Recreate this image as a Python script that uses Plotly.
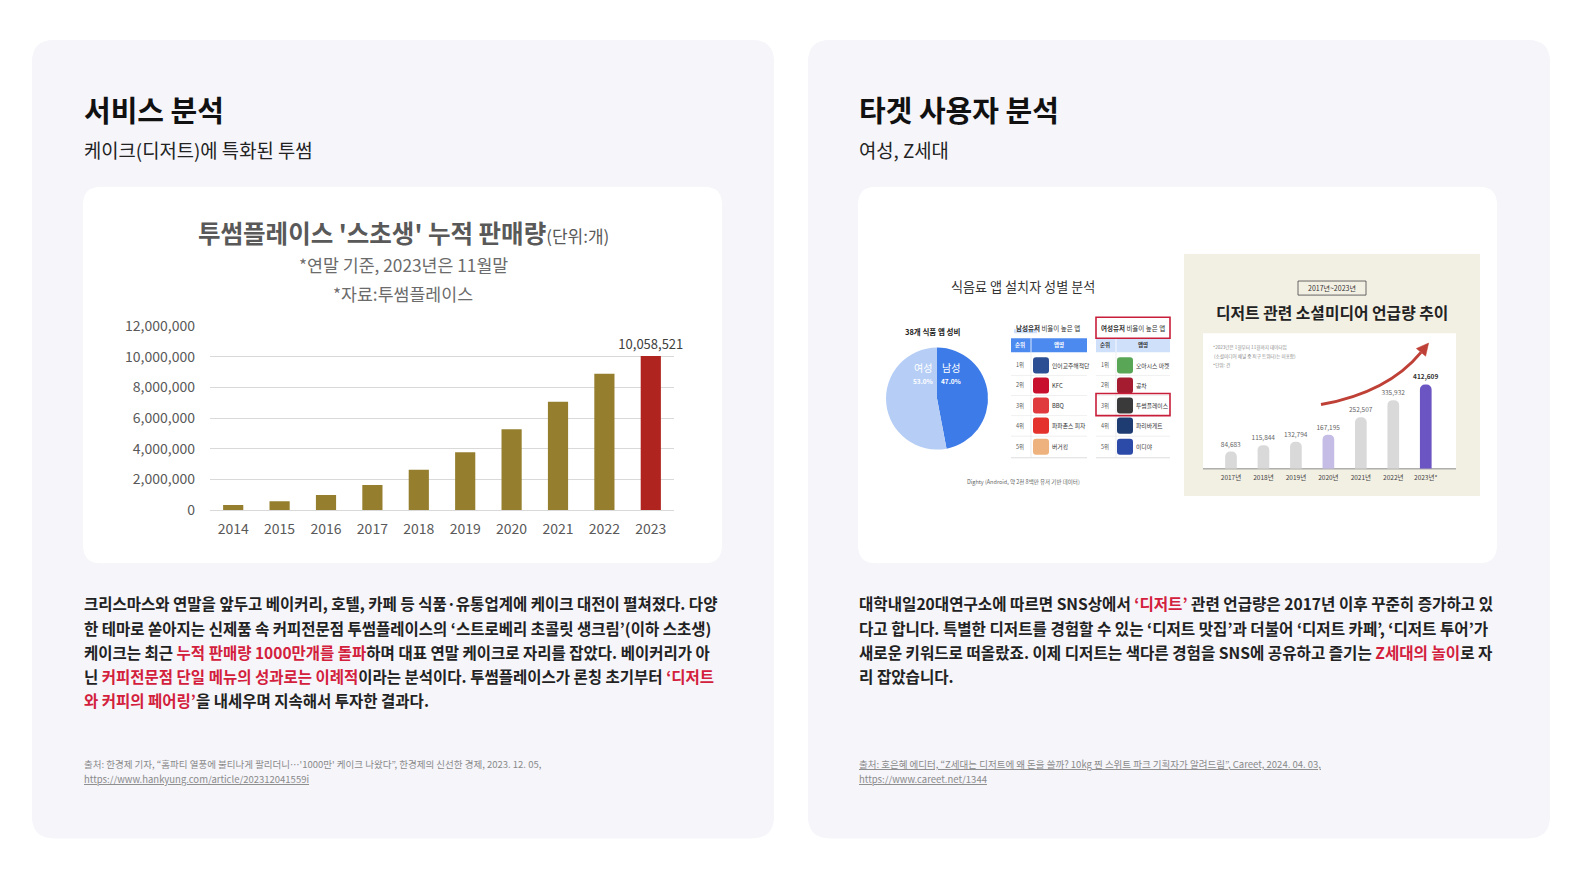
import plotly.graph_objects as go

W, H = 1582, 882
FONT = "Noto Sans CJK KR, Noto Sans, sans-serif"

# ---------------- data ----------------
years = ["2014", "2015", "2016", "2017", "2018", "2019", "2020", "2021", "2022", "2023"]
sales = [320000, 570000, 980000, 1640000, 2630000, 3770000, 5270000, 7070000, 8900000, 10058521]
y_ticks = [0, 2000000, 4000000, 6000000, 8000000, 10000000, 12000000]

mention_years = ["2017년", "2018년", "2019년", "2020년", "2021년", "2022년", "2023년*"]
mentions = [84683, 115844, 132794, 167195, 252507, 335932, 412609]

gender_labels = ["남성", "여성"]
gender_share = [47.0, 53.0]

ranks = ["1위", "2위", "3위", "4위", "5위"]
male_apps = ["인어교주해적단", "KFC", "BBQ", "파파존스 피자", "버거킹"]
female_apps = ["오아시스 마켓", "공차", "투썸플레이스", "파리바게트", "이디야"]
male_icon_colors = ["#2c4f93", "#c8102e", "#e03a3e", "#e4312b", "#eeb27e"]
female_icon_colors = ["#5aa657", "#a51c30", "#3a3a3a", "#1e3c72", "#2c4aa8"]

RED = "#d3203c"


def X(x):
    return x / W


def YD(c):
    # layout pixel row for a target row c
    p = c / 1.0095
    return (p - 13) / 0.964


def Y(c):
    return 1 - YD(c) / H


def rrect_path(x0, y0, x1, y1, r):
    return (f"M {X(x0+r)},{Y(y0)} L {X(x1-r)},{Y(y0)} Q {X(x1)},{Y(y0)} {X(x1)},{Y(y0+r)} "
            f"L {X(x1)},{Y(y1-r)} Q {X(x1)},{Y(y1)} {X(x1-r)},{Y(y1)} "
            f"L {X(x0+r)},{Y(y1)} Q {X(x0)},{Y(y1)} {X(x0)},{Y(y1-r)} "
            f"L {X(x0)},{Y(y0+r)} Q {X(x0)},{Y(y0)} {X(x0+r)},{Y(y0)} Z")


shapes = []
annotations = []


def rr(x0, y0, x1, y1, r, fill, line=None, lw=0, layer="below"):
    shapes.append(dict(type="path", xref="paper", yref="paper", path=rrect_path(x0, y0, x1, y1, r),
                       fillcolor=fill, line=dict(color=line or "rgba(0,0,0,0)", width=lw), layer=layer))


def rect(x0, y0, x1, y1, fill="rgba(0,0,0,0)", line=None, lw=0, layer="below"):
    shapes.append(dict(type="rect", xref="paper", yref="paper", x0=X(x0), x1=X(x1), y0=Y(y1), y1=Y(y0),
                       fillcolor=fill, line=dict(color=line or "rgba(0,0,0,0)", width=lw), layer=layer))


def hline(x0, x1, y, color, lw=1, layer="below"):
    shapes.append(dict(type="line", xref="paper", yref="paper", x0=X(x0), x1=X(x1), y0=Y(y), y1=Y(y),
                       line=dict(color=color, width=lw), layer=layer))


def vline(x, y0, y1, color, lw=1, layer="below"):
    shapes.append(dict(type="line", xref="paper", yref="paper", x0=X(x), x1=X(x), y0=Y(y0), y1=Y(y1),
                       line=dict(color=color, width=lw), layer=layer))


def ann(x, y, text, size, color="#222", anchor="left", family=FONT):
    annotations.append(dict(xref="paper", yref="paper", x=X(x), y=Y(y), text=text, showarrow=False,
                            xanchor=anchor, yanchor="middle", font=dict(size=size, color=color, family=family),
                            borderpad=0))


def seg(t, color="#222"):
    return f"<span style='color:{color}'>{t}</span>"


# ---------------- panels ----------------
rr(32, 42, 774, 837, 22, "#f5f5fa")
rr(808, 42, 1550, 837, 22, "#f5f5fa")
rr(83, 188, 722, 563, 18, "#ffffff")
rr(858, 188, 1497, 563, 18, "#ffffff")

ann(83, 111, "<b>서비스 분석</b>", 29, "#111")
ann(83, 151, "케이크(디저트)에 특화된 투썸", 18.8, "#222")
ann(858, 111, "<b>타겟 사용자 분석</b>", 29, "#111")
ann(858, 151, "여성, Z세대", 18.8, "#222")

# ---------------- main chart text ----------------
ann(403, 234, "<b>투썸플레이스 '스초생' 누적 판매량</b><span style='font-size:17px'>(단위:개)</span>",
    24.5, "#595959", anchor="center")
ann(403, 266, "*연말 기준, 2023년은 11월말", 17.3, "#6b6b6b", anchor="center")
ann(403, 294, "*자료:투썸플레이스", 17.3, "#6b6b6b", anchor="center")

# ---------------- paragraphs ----------------
left_lines = [
    seg("크리스마스와 연말을 앞두고 베이커리, 호텔, 카페 등 식품·유통업계에 케이크 대전이 펼쳐졌다. 다양"),
    seg("한 테마로 쏟아지는 신제품 속 커피전문점 투썸플레이스의 ‘스트로베리 초콜릿 생크림’(이하 스초생)"),
    seg("케이크는 최근 ") + seg("누적 판매량 1000만개를 돌파", RED) + seg("하며 대표 연말 케이크로 자리를 잡았다. 베이커리가 아"),
    seg("닌 ") + seg("커피전문점 단일 메뉴의 성과로는 이례적", RED) + seg("이라는 분석이다. 투썸플레이스가 론칭 초기부터 ") + seg("‘디저트", RED),
    seg("와 커피의 페어링’", RED) + seg("을 내세우며 지속해서 투자한 결과다."),
]
right_lines = [
    seg("대학내일20대연구소에 따르면 SNS상에서 ") + seg("‘디저트’", RED) + seg(" 관련 언급량은 2017년 이후 꾸준히 증가하고 있"),
    seg("다고 합니다. 특별한 디저트를 경험할 수 있는 ‘디저트 맛집’과 더불어 ‘디저트 카페’, ‘디저트 투어’가"),
    seg("새로운 키워드로 떠올랐죠. 이제 디저트는 색다른 경험을 SNS에 공유하고 즐기는 ") + seg("Z세대의 놀이", RED) + seg("로 자"),
    seg("리 잡았습니다."),
]
line_y = [603, 627, 651, 675, 699]
for i, t in enumerate(left_lines):
    ann(83, line_y[i], "<b>" + t + "</b>", 15.5, "#222")
for i, t in enumerate(right_lines):
    ann(858, line_y[i], "<b>" + t + "</b>", 15.6, "#222")

SRC = "#8a8a8a"
ann(83, 763, "출처: 한경제 기자, “홈파티 열풍에 불티나게 팔리더니…'1000만' 케이크 나왔다”, 한경제의 신선한 경제, 2023. 12. 05,", 9.5, SRC)
ann(83, 778, "<span style='text-decoration:underline'>https://www.hankyung.com/article/202312041559i</span>", 9.5, SRC)
ann(858, 763, "<span style='text-decoration:underline'>출처: 호은혜 에디터, “Z세대는 디저트에 왜 돈을 쓸까? 10kg 찐 스위트 파크 기획자가 알려드림”, Careet, 2024. 04. 03,</span>", 9.5, SRC)
ann(858, 778, "<span style='text-decoration:underline'>https://www.careet.net/1344</span>", 9.5, SRC)

# ---------------- Dighty infographic (left image in right card) ----------------
ann(1023, 287, "식음료 앱 설치자 성별 분석", 13.1, "#333", anchor="center")
ann(932, 332, "<b>38개 식품 앱 성비</b>", 7.5, "#222", anchor="center")

rows_y = [366, 386, 406, 426, 447]


def app_table(x0, x1, xdiv, rank_x, icon_x, name_x, header_fill, header_txt, title, names, icon_colors, title_x):
    ann(title_x, 329, title, 6.5, "#333", anchor="center")
    rect(x0, 339, x1, 353, fill=header_fill)
    vline(xdiv, 339, 353, "#ffffff", 0.8)
    ann(rank_x, 346, "<b>순위</b>", 5.5, header_txt, anchor="center")
    ann((xdiv + x1) / 2, 346, "<b>앱명</b>", 5.5, header_txt, anchor="center")
    for k in range(4):
        hline(x0, x1, (rows_y[k] + rows_y[k + 1]) / 2, "#e6e6e6", 0.6)
    hline(x0, x1, 458, "#d6d6d6", 0.8)
    vline(xdiv, 353, 458, "#e3e3e3", 0.6)
    for k in range(5):
        ann(rank_x, rows_y[k], ranks[k], 5.5, "#555", anchor="center")
        rr(icon_x - 8, rows_y[k] - 8, icon_x + 8, rows_y[k] + 8, 3, icon_colors[k])
        ann(name_x, rows_y[k], names[k], 5.8, "#333")


rect(1014, 330, 1037, 334, fill="#cfe0fb")
app_table(1011, 1087, 1031, 1020, 1041, 1051, "#4d8af0", "#ffffff",
          "<b>남성유저</b> 비율이 높은 앱", male_apps, male_icon_colors, 1048)
app_table(1096, 1170, 1116, 1105, 1125, 1135, "#cfe0fb", "#333333",
          "<b>여성유저</b> 비율이 높은 앱", female_apps, female_icon_colors, 1133)
rect(1096, 318, 1170, 339, line="#c81e3a", lw=1.6, layer="above")
rect(1096, 394, 1170, 416, line="#c81e3a", lw=1.6, layer="above")

ann(1023, 482, "Dighty (Android, 약 2천 8백만 유저 기반 데이터)", 5.5, "#666", anchor="center")

ann(923, 368, "여성", 10, "#ffffff", anchor="center")
ann(923, 382, "<b>53.0%</b>", 6.5, "#ffffff", anchor="center")
ann(951, 368, "남성", 10, "#ffffff", anchor="center")
ann(951, 382, "<b>47.0%</b>", 6.5, "#ffffff", anchor="center")

# ---------------- Social media infographic ----------------
rect(1184, 255, 1480, 496, fill="#f2efe3")
rect(1203, 334, 1456, 469, fill="#ffffff")
hline(1203, 1456, 469, "#8a8a8a", 1)
rect(1298, 282, 1366, 296, line="#444", lw=0.8)
ann(1332, 289, "2017년~2023년", 7, "#333", anchor="center")
ann(1332, 313, "<b>디저트 관련 소셜미디어 언급량 추이</b>", 15.8, "#222", anchor="center")
ann(1212, 348, "*2023년은 1월부터 11월까지 데이터임", 4.6, "#888")
ann(1212, 357, " (소셜미디어 채널 중 X(구 트위터)는 미포함)", 4.6, "#888")
ann(1212, 366, "*단위: 건", 4.6, "#888")

# curved arrow
ax0, ay0, cx, cy, ex, ey = 1321, 405, 1388, 393, 1421, 353
shapes.append(dict(type="path", xref="paper", yref="paper",
                   path=f"M {X(ax0)},{Y(ay0)} Q {X(cx)},{Y(cy)} {X(ex)},{Y(ey)}",
                   line=dict(color="#bf4036", width=3), layer="above"))
dx, dy = ex - cx, ey - cy
n = (dx * dx + dy * dy) ** 0.5
ux, uy = dx / n, dy / n
px_, py_ = -uy, ux
tipx, tipy = ex + 12 * ux, ey + 12 * uy
b1 = (ex + 6 * px_, ey + 6 * py_)
b2 = (ex - 6 * px_, ey - 6 * py_)
shapes.append(dict(type="path", xref="paper", yref="paper",
                   path=f"M {X(tipx)},{Y(tipy)} L {X(b1[0])},{Y(b1[1])} L {X(b2[0])},{Y(b2[1])} Z",
                   fillcolor="#bf4036", line=dict(color="#bf4036", width=0.5), layer="above"))

# ---------------- traces ----------------
fig = go.Figure()

main_colors = ["#957f2e"] * (len(sales) - 1) + ["#b0241f"]
main_text = ["" for _ in sales[:-1]] + [f"{sales[-1]:,}"]
fig.add_trace(go.Bar(x=years, y=sales, marker=dict(color=main_colors, line=dict(width=0)), width=0.435,
                     text=main_text, textposition="outside", constraintext="none", cliponaxis=False,
                     textfont=dict(size=13, color="#404040", family=FONT),
                     hoverinfo="skip", showlegend=False, xaxis="x", yaxis="y"))

mini_colors = ["#d9d9d9"] * 3 + ["#c5bde6"] + ["#d9d9d9"] * 2 + ["#6b55c3"]
mini_text = [f"{v:,}" for v in mentions[:-1]] + [f"<b>{mentions[-1]:,}</b>"]
mini_text_col = ["#666"] * (len(mentions) - 1) + ["#333"]
fig.add_trace(go.Bar(x=mention_years, y=mentions, marker=dict(color=mini_colors, line=dict(width=0), cornerradius=6),
                     width=0.36, text=mini_text, textposition="outside", constraintext="none", cliponaxis=False,
                     textfont=dict(size=6.5, color=mini_text_col, family=FONT),
                     hoverinfo="skip", showlegend=False, xaxis="x2", yaxis="y2"))

fig.add_trace(go.Pie(labels=gender_labels, values=gender_share, sort=False, direction="clockwise", rotation=0,
                     marker=dict(colors=["#3d7be8", "#b6cef6"], line=dict(width=0)),
                     textinfo="none", hoverinfo="skip", showlegend=False,
                     domain=dict(x=[X(886), X(988)], y=[Y(450), Y(348)])))

fig.update_layout(
    width=W, height=H, margin=dict(l=0, r=0, t=0, b=0),
    paper_bgcolor="#ffffff", plot_bgcolor="rgba(0,0,0,0)",
    font=dict(family=FONT),
    shapes=shapes, annotations=annotations,
    xaxis=dict(domain=[X(210), X(674)], type="category", showgrid=False, showline=False, zeroline=False,
               ticks="", tickfont=dict(size=14, color="#595959", family=FONT), ticklabelstandoff=9,
               fixedrange=True),
    yaxis=dict(domain=[Y(510), Y(327)], range=[0, 12000000], tickvals=y_ticks, tickformat=",d",
               showgrid=True, gridcolor="#d9d9d9", gridwidth=1, zeroline=True, zerolinecolor="#d9d9d9",
               zerolinewidth=1, showline=False, ticks="", ticklabelstandoff=14,
               tickfont=dict(size=14, color="#595959", family=FONT), fixedrange=True),
    xaxis2=dict(domain=[X(1214.75), X(1442)], type="category", showgrid=False, showline=False, zeroline=False,
                ticks="", tickfont=dict(size=6.5, color="#444", family=FONT), ticklabelstandoff=4,
                anchor="y2", fixedrange=True),
    yaxis2=dict(domain=[Y(469), Y(334)], range=[0, 663000], visible=False, anchor="x2", fixedrange=True),
)

fig.write_html("out.html", config={"displayModeBar": False},
               post_script="document.body.style.margin='0';document.body.style.overflow='hidden';")
